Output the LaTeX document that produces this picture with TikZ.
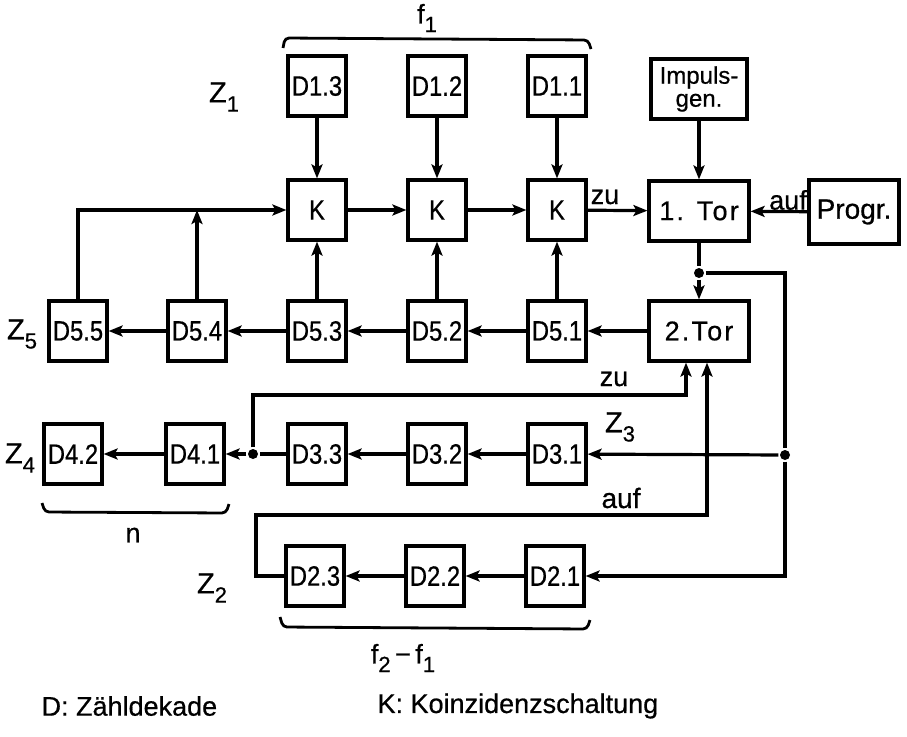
\documentclass[tikz,border=0pt]{standalone}
\usepackage{fontspec}
\setmainfont{Liberation Sans}[FakeBold=0.6]
\newfontfamily\cond{Liberation Sans}[FakeStretch=0.85,FakeBold=0.6]
\usetikzlibrary{arrows.meta}
\newcommand\zsub[1]{\raisebox{-0.6ex}{\fontsize{22}{22}\selectfont #1}}
\begin{document}
\begin{tikzpicture}[x=1pt,y=-1pt, line width=3.2pt,
 blk/.style={draw, line width=3.2pt, minimum width=58pt, minimum height=60pt, inner sep=0pt, font=\cond\fontsize{28}{28}\selectfont},
 arr/.style={-{Stealth[length=14pt,width=11pt,inset=3pt]}},
 dot/.style={circle, fill, inner sep=0pt, minimum size=10pt},
 lbl/.style={font=\fontsize{27}{29}\selectfont, inner sep=0pt},
 brk/.style={line width=2.8pt, rounded corners=4pt}]
\useasboundingbox (0,0) rectangle (907,736);
% top row
\node[blk] (d13) at (317,86) {D1.3};
\node[blk] (d12) at (437,86) {D1.2};
\node[blk] (d11) at (557,86) {D1.1};
\node[blk, minimum width=96pt, align=center, font=\fontsize{24}{23}\selectfont] (imp) at (699,89) {Impuls-\\gen.};
% K row
\node[blk] (k1) at (317,210) {K};
\node[blk] (k2) at (437,210) {K};
\node[blk] (k3) at (557,210) {K};
\node[blk, minimum width=100pt, font=\fontsize{27}{27}\selectfont] (t1) at (699,211) {\addfontfeature{LetterSpace=8}1. Tor};
\node[blk, minimum width=90pt, minimum height=64pt, font=\fontsize{28}{28}\selectfont] (pg) at (854,212) {Progr.};
% D5 row
\node[blk] (d55) at (78,331) {D5.5};
\node[blk] (d54) at (197,331) {D5.4};
\node[blk] (d53) at (317,331) {D5.3};
\node[blk] (d52) at (437,331) {D5.2};
\node[blk] (d51) at (557,331) {D5.1};
\node[blk, minimum width=100pt, font=\fontsize{27}{27}\selectfont] (t2) at (699,331) {\addfontfeature{LetterSpace=8}2.Tor};
% D3/D4 row
\node[blk] (d42) at (73,454) {D4.2};
\node[blk] (d41) at (195,454) {D4.1};
\node[blk] (d33) at (317,454) {D3.3};
\node[blk] (d32) at (437,454) {D3.2};
\node[blk] (d31) at (557,454) {D3.1};
% D2 row
\node[blk] (d23) at (315,576) {D2.3};
\node[blk] (d22) at (435,576) {D2.2};
\node[blk] (d21) at (555,576) {D2.1};
% junctions and corners
\node[dot] (j1) at (699,273) {};
\node[dot] (j2) at (785,455) {};
\node[dot] (j3) at (253,454) {};
\coordinate (r1) at (785,273);
\coordinate (r2) at (785,576);
\coordinate (c1) at (253,395);
\coordinate (c2) at (686,395);
\coordinate (c3) at (256,576);
\coordinate (c4) at (256,515);
\coordinate (c5) at (707,515);
% connectors
\draw[arr] (d13) -- (k1);
\draw[arr] (d12) -- (k2);
\draw[arr] (d11) -- (k3);
\draw[arr] (imp) -- (t1);
\draw[arr] (k1) -- (k2);
\draw[arr] (k2) -- (k3);
\draw[arr] (k3) -- (t1);
\draw[arr] (pg) -- (t1);
\draw (t1) -- (j1);
\draw[arr] (j1) -- (t2);
\draw (j1) -- (r1) -- (j2);
\draw[arr] (j2) -- (r2) -- (d21);
\draw[arr] (j2) -- (d31);
\draw[arr] (t2) -- (d51);
\draw[arr] (d51) -- (d52);
\draw[arr] (d52) -- (d53);
\draw[arr] (d53) -- (d54);
\draw[arr] (d54) -- (d55);
\draw[arr] (d51) -- (k3);
\draw[arr] (d52) -- (k2);
\draw[arr] (d53) -- (k1);
\draw[arr] (d55) |- (k1);
\draw[arr] (d54) -- (d54 |- k1);
\draw[arr] (d31) -- (d32);
\draw[arr] (d32) -- (d33);
\draw (d33) -- (j3);
\draw[arr] (j3) -- (d41);
\draw[arr] (d41) -- (d42);
\draw[arr] (j3) -- (c1) -- (c2) -- (c2 |- t2.south);
\draw[arr] (d23) -- (c3) -- (c4) -- (c5) -- (c5 |- t2.south);
\draw[arr] (d21) -- (d22);
\draw[arr] (d22) -- (d23);
% brackets
\draw[brk] (283,48) -- (285,38) -- (588,40) -- (591,49);
\draw[brk] (42,503) -- (45,512) -- (226,513) -- (229,504);
\draw[brk] (280,617) -- (283,627) -- (587,629) -- (590,620);
% labels
\node[lbl] (lf1) at (427,18) {f\zsub{1}};
\node[lbl, font=\fontsize{29}{29}\selectfont] (lz1) at (224,97) {Z\zsub{1}};
\node[lbl, font=\fontsize{29}{29}\selectfont] (lz5) at (22,334) {Z\zsub{5}};
\node[lbl, font=\fontsize{29}{29}\selectfont] (lz4) at (20,458) {Z\zsub{4}};
\node[lbl, font=\fontsize{29}{29}\selectfont] (lz3) at (620,427) {Z\zsub{3}};
\node[lbl, font=\fontsize{29}{29}\selectfont] (lz2) at (212,588) {Z\zsub{2}};
\node[lbl] (lzu1) at (605,197) {zu};
\node[lbl] (lauf1) at (788,200) {auf};
\node[lbl] (lzu2) at (614,379) {zu};
\node[lbl, font=\fontsize{28}{29}\selectfont] (lauf2) at (621,498) {auf};
\node[lbl] (ln) at (133,535) {n};
\node[lbl] (lf21) at (403,658) {f\zsub{2}\,−\,f\zsub{1}};
\node[lbl, anchor=west] (leg1) at (40,706) {D: Zähldekade};
\node[lbl, anchor=west] (leg2) at (376,706) {K: Koinzidenzschaltung};
\end{tikzpicture}
\end{document}
